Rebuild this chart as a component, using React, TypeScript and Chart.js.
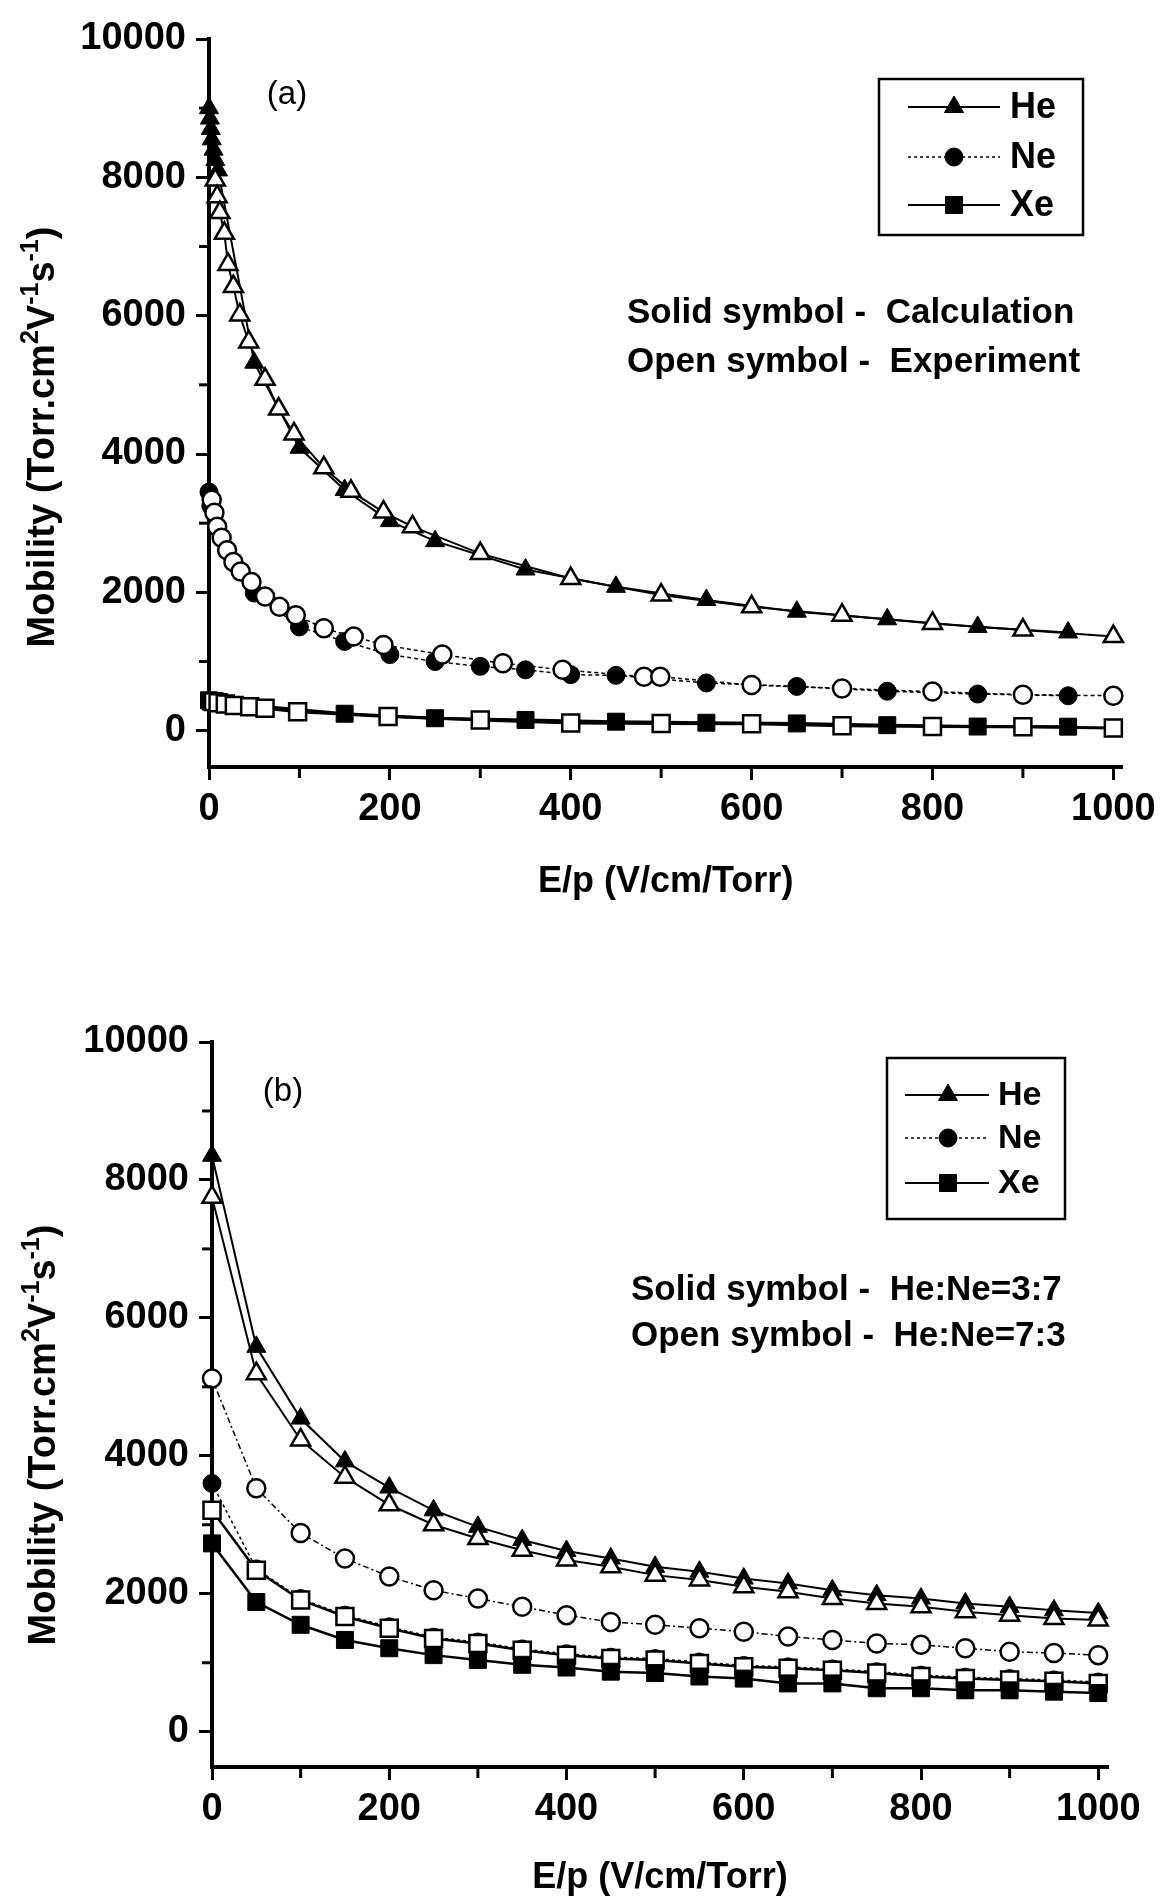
import React, { useEffect, useRef } from 'react';
import { Chart, registerables } from 'chart.js';

Chart.register(...registerables);

// ---------------- DATA ----------------
// Panel (a): solid = calculation, open = experiment
const heCalcX_a = [0, 1, 2, 3, 5, 7, 10, 50, 100, 150, 200, 250, 350, 450, 550, 650, 750, 850, 950];
const heCalcY_a = [9000, 8850, 8700, 8550, 8400, 8250, 8100, 5320, 4090, 3480, 3030, 2740, 2330, 2080, 1890, 1720, 1610, 1500, 1420];
const heExpX_a = [7, 9, 12, 17, 21, 27, 34, 44, 62, 77, 94, 127, 157, 193, 225, 300, 400, 500, 600, 700, 800, 900, 1000];
const heExpY_a = [7960, 7720, 7490, 7190, 6740, 6420, 6010, 5620, 5080, 4650, 4290, 3800, 3460, 3160, 2950, 2560, 2200, 1960, 1790, 1670, 1550, 1455, 1360];

const neCalcX_a = [0, 2, 50, 100, 150, 200, 250, 300, 350, 400, 450, 550, 650, 750, 850, 950];
const neCalcY_a = [3450, 3250, 1990, 1500, 1290, 1100, 1000, 930, 880, 810, 800, 690, 640, 570, 530, 505];
const neExpX_a = [3, 6, 9, 14, 20, 27, 35, 47, 62, 78, 96, 127, 160, 193, 258, 325, 391, 481, 499, 600, 700, 800, 900, 1000];
const neExpY_a = [3340, 3150, 2950, 2790, 2610, 2440, 2300, 2150, 1940, 1790, 1670, 1480, 1360, 1240, 1100, 975, 880, 780, 780, 660, 610, 565, 520, 505];

const xeCalcX_a = [0, 2, 150, 250, 350, 450, 550, 650, 750, 850, 950];
const xeCalcY_a = [440, 420, 245, 180, 155, 130, 115, 105, 80, 60, 58];
const xeExpX_a = [5, 10, 18, 28, 45, 62, 98, 198, 300, 400, 500, 600, 700, 800, 900, 1000];
const xeExpY_a = [420, 405, 385, 365, 345, 325, 275, 205, 155, 110, 105, 100, 70, 60, 58, 38];

// Panel (b): solid = He:Ne=3:7, open = He:Ne=7:3
const epX_b = [0, 50, 100, 150, 200, 250, 300, 350, 400, 450, 500, 550, 600, 650, 700, 750, 800, 850, 900, 950, 1000];
const heSolid_b = [8350, 5580, 4540, 3920, 3540, 3210, 2970, 2780, 2620, 2510, 2390, 2320, 2220, 2150, 2050, 1980, 1930, 1860, 1810, 1760, 1720];
const heOpen_b = [7750, 5190, 4230, 3690, 3290, 3000, 2800, 2630, 2490, 2390, 2270, 2200, 2100, 2030, 1930, 1860, 1810, 1740, 1690, 1640, 1620];
const neSolid_b = [3600, 2360, 1930, 1690, 1520, 1370, 1300, 1200, 1130, 1080, 1060, 1010, 960, 940, 910, 870, 820, 790, 770, 750, 720];
const neOpen_b = [5120, 3530, 2880, 2510, 2250, 2050, 1930, 1810, 1690, 1590, 1550, 1500, 1450, 1380, 1330, 1280, 1260, 1210, 1160, 1140, 1110];
const xeSolid_b = [2730, 1880, 1550, 1330, 1210, 1110, 1040, 970, 930, 870, 850, 800, 770, 700, 700, 630, 630, 600, 600, 580, 560];
const xeOpen_b = [3210, 2340, 1910, 1670, 1500, 1350, 1280, 1180, 1110, 1060, 1040, 990, 940, 920, 890, 850, 800, 770, 750, 730, 700];

// Axis ticks / labels
const xTicks = [0, 200, 400, 600, 800, 1000];
const xMinorTicks = [100, 300, 500, 700, 900];
const yTicks = [0, 2000, 4000, 6000, 8000, 10000];
const yMinorTicks = [1000, 3000, 5000, 7000, 9000];
const legendLabels = ['He', 'Ne', 'Xe'];
const notesA = ['Solid symbol -  Calculation', 'Open symbol -  Experiment'];
const notesB = ['Solid symbol -  He:Ne=3:7', 'Open symbol -  He:Ne=7:3'];
const xTitleText = 'E/p (V/cm/Torr)';
const yTitleParts: [string, boolean][] = [
  ['Mobility (Torr.cm', false], ['2', true], ['V', false], ['-1', true], ['s', false], ['-1', true], [')', false],
];

// ---------------- STYLE ----------------
const FAMILY = '"Liberation Sans", Arial, Helvetica, sans-serif';
const W = 1163;
const H = 950;

const pts = (xs: number[], ys: number[]) => xs.map((x, i) => ({ x, y: ys[i] }));

const mk = (style: string, solid: boolean, r: number) => ({
  pointStyle: style,
  pointRadius: r,
  pointHoverRadius: r,
  pointBackgroundColor: solid ? '#000' : '#fff',
  pointBorderColor: '#000',
  pointBorderWidth: solid ? 1 : 2.5,
});

function ds(label: string, xs: number[], ys: number[], marker: any, line: any, order: number) {
  return {
    label,
    data: pts(xs, ys),
    borderColor: '#000',
    backgroundColor: '#000',
    fill: false,
    tension: 0,
    clip: false,
    order,
    ...marker,
    ...line,
  };
}

const solidLine = (w: number) => ({ borderWidth: w });
const dashLine = (w: number, d: number[]) => ({ borderWidth: w, borderDash: d });

const datasetsA = [
  ds('He calc', heCalcX_a, heCalcY_a, mk('triangle', true, 11), solidLine(2), 6),
  ds('He exp', heExpX_a, heExpY_a, mk('triangle', false, 11), solidLine(2), 3),
  ds('Ne calc', neCalcX_a, neCalcY_a, mk('circle', true, 9), dashLine(1.5, [4, 3]), 5),
  ds('Ne exp', neExpX_a, neExpY_a, mk('circle', false, 9), dashLine(1.5, [4, 3]), 2),
  ds('Xe calc', xeCalcX_a, xeCalcY_a, mk('rect', true, 12), solidLine(3), 4),
  ds('Xe exp', xeExpX_a, xeExpY_a, mk('rect', false, 12), solidLine(3), 1),
];

const datasetsB = [
  ds('He 3:7', epX_b, heSolid_b, mk('triangle', true, 11), solidLine(2), 2),
  ds('He 7:3', epX_b, heOpen_b, mk('triangle', false, 11), solidLine(2), 1),
  ds('Ne 3:7', epX_b, neSolid_b, mk('circle', true, 9), dashLine(1.5, [3, 3]), 6),
  ds('Ne 7:3', epX_b, neOpen_b, mk('circle', false, 9), dashLine(1.5, [6, 3, 2, 3]), 3),
  ds('Xe 3:7', epX_b, xeSolid_b, mk('rect', true, 12), solidLine(2.5), 4),
  ds('Xe 7:3', epX_b, xeOpen_b, mk('rect', false, 12), solidLine(2.5), 5),
];

const panelA = {
  datasets: datasetsA,
  area: { left: 209, right: 1123, top: 39, bottom: 767 },
  yMin: -525,
  xMax: 1010,
  xTitlePad: 50,
  label: '(a)', labelPos: { x: 287, y: 95 },
  notes: notesA, noteX: 627, noteY: [313, 362], noteSize: 35,
  legend: { x1: 879, y1: 79, x2: 1083, y2: 235, rows: [107, 157, 205], lx1: 908, lx2: 1000, mx: 954, tx: 1010, size: 36 },
  yTitle: { cx: 44, cy: 437 },
};

const panelB = {
  datasets: datasetsB,
  area: { left: 212, right: 1108, top: 92, bottom: 817 },
  yMin: -512,
  xMax: 1011,
  xTitlePad: 4,
  label: '(b)', labelPos: { x: 283, y: 142 },
  notes: notesB, noteX: 631, noteY: [340, 386], noteSize: 35,
  legend: { x1: 887, y1: 108, x2: 1065, y2: 269, rows: [145, 188, 233], lx1: 905, lx2: 989, mx: 948, tx: 998, size: 34 },
  yTitle: { cx: 45, cy: 485 },
};

const legendMarkers = ['triangle', 'circle', 'rect'];
const legendDashes = [[], [3, 3], []];
const legendRadius = [11, 9, 12];

function drawMarker(ctx: CanvasRenderingContext2D, style: string, x: number, y: number, r: number) {
  ctx.beginPath();
  if (style === 'triangle') {
    let a = 0;
    ctx.moveTo(x + Math.sin(a) * r, y - Math.cos(a) * r);
    a += (2 * Math.PI) / 3;
    ctx.lineTo(x + Math.sin(a) * r, y - Math.cos(a) * r);
    a += (2 * Math.PI) / 3;
    ctx.lineTo(x + Math.sin(a) * r, y - Math.cos(a) * r);
    ctx.closePath();
  } else if (style === 'circle') {
    ctx.arc(x, y, r, 0, Math.PI * 2);
  } else {
    const s = r * Math.SQRT1_2;
    ctx.rect(x - s, y - s, 2 * s, 2 * s);
  }
  ctx.fillStyle = '#000';
  ctx.fill();
  ctx.lineWidth = 1;
  ctx.setLineDash([]);
  ctx.stroke();
}

function drawDecor(chart: any, p: any) {
  const ctx: CanvasRenderingContext2D = chart.ctx;
  const xs = chart.scales.x;
  const ys = chart.scales.y;
  const { left, bottom } = chart.chartArea;
  ctx.save();
  ctx.strokeStyle = '#000';
  ctx.fillStyle = '#000';

  // minor ticks
  ctx.lineWidth = 3;
  for (const v of xMinorTicks) {
    const px = xs.getPixelForValue(v);
    ctx.beginPath();
    ctx.moveTo(px, bottom);
    ctx.lineTo(px, bottom + 11);
    ctx.stroke();
  }
  for (const v of yMinorTicks) {
    const py = ys.getPixelForValue(v);
    ctx.beginPath();
    ctx.moveTo(left - 10, py);
    ctx.lineTo(left, py);
    ctx.stroke();
  }

  // panel label
  ctx.font = `normal 33px ${FAMILY}`;
  ctx.textAlign = 'center';
  ctx.textBaseline = 'middle';
  ctx.fillText(p.label, p.labelPos.x, p.labelPos.y);

  // notes
  ctx.font = `bold ${p.noteSize}px ${FAMILY}`;
  ctx.textAlign = 'left';
  p.notes.forEach((t: string, i: number) => ctx.fillText(t, p.noteX, p.noteY[i]));

  // legend
  const L = p.legend;
  ctx.lineWidth = 2.5;
  ctx.strokeRect(L.x1, L.y1, L.x2 - L.x1, L.y2 - L.y1);
  legendLabels.forEach((lab, i) => {
    const y = L.rows[i];
    ctx.setLineDash(legendDashes[i]);
    ctx.lineWidth = i === 1 ? 1.5 : 2;
    ctx.beginPath();
    ctx.moveTo(L.lx1, y);
    ctx.lineTo(L.lx2, y);
    ctx.stroke();
    ctx.setLineDash([]);
    drawMarker(ctx, legendMarkers[i], L.mx, y, legendRadius[i]);
    ctx.fillStyle = '#000';
    ctx.font = `bold ${L.size}px ${FAMILY}`;
    ctx.textAlign = 'left';
    ctx.textBaseline = 'middle';
    ctx.fillText(lab, L.tx, y + 1);
  });

  // y axis title with superscripts
  const size = 38;
  const supSize = 25;
  let total = 0;
  const widths: number[] = [];
  for (const [t, sup] of yTitleParts) {
    ctx.font = `bold ${sup ? supSize : size}px ${FAMILY}`;
    const w = ctx.measureText(t).width;
    widths.push(w);
    total += w;
  }
  ctx.save();
  ctx.translate(p.yTitle.cx, p.yTitle.cy);
  ctx.rotate(-Math.PI / 2);
  ctx.textAlign = 'left';
  ctx.textBaseline = 'alphabetic';
  let x = -total / 2;
  const base = size * 0.27;
  yTitleParts.forEach(([t, sup], i) => {
    ctx.font = `bold ${sup ? supSize : size}px ${FAMILY}`;
    ctx.fillText(t, x, sup ? base - size * 0.42 : base);
    x += widths[i];
  });
  ctx.restore();

  ctx.restore();
}

function makeConfig(p: any): any {
  const a = p.area;
  const grid = { drawOnChartArea: false, drawTicks: true, tickLength: 13, tickWidth: 3, tickColor: '#000' };
  const border = { display: true, color: '#000', width: 4 };
  const tickFont = { size: 38, weight: 'bold', family: FAMILY };
  return {
    type: 'line',
    data: { datasets: p.datasets },
    options: {
      responsive: false,
      maintainAspectRatio: false,
      animation: false,
      devicePixelRatio: 1,
      events: [],
      layout: { padding: { top: a.top, right: W - a.right, left: 0, bottom: 0 } },
      plugins: { legend: { display: false }, tooltip: { enabled: false }, title: { display: false } },
      scales: {
        x: {
          type: 'linear',
          min: 0,
          max: p.xMax,
          afterFit: (s: any) => { s.height = H - a.bottom; },
          afterBuildTicks: (s: any) => { s.ticks = xTicks.map((v) => ({ value: v })); },
          grid,
          border,
          ticks: { color: '#000', font: tickFont, padding: 7, maxRotation: 0, autoSkip: false, callback: (v: any) => String(v) },
          title: {
            display: true,
            text: xTitleText,
            color: '#000',
            font: { size: 36, weight: 'bold', family: FAMILY, lineHeight: 1 },
            padding: { top: 0, bottom: p.xTitlePad },
          },
        },
        y: {
          type: 'linear',
          min: p.yMin,
          max: 10000,
          afterFit: (s: any) => { s.width = a.left; },
          afterBuildTicks: (s: any) => { s.ticks = yTicks.map((v) => ({ value: v })); },
          grid,
          border,
          ticks: { color: '#000', font: tickFont, padding: 10, autoSkip: false, callback: (v: any) => String(v) },
        },
      },
    },
    plugins: [{ id: 'decor', afterDraw: (chart: any) => drawDecor(chart, p) }],
  };
}

function Panel({ spec, top }: { spec: any; top: number }) {
  const ref = useRef<HTMLCanvasElement>(null);
  useEffect(() => {
    Chart.defaults.font.family = FAMILY;
    Chart.defaults.color = '#000';
    const chart = new Chart(ref.current as HTMLCanvasElement, makeConfig(spec));
    return () => chart.destroy();
  }, [spec]);
  return (
    <canvas
      ref={ref}
      width={W}
      height={H}
      style={{ position: 'absolute', left: 0, top, width: W, height: H, display: 'block' }}
    />
  );
}

export default function App() {
  return (
    <div style={{ position: 'absolute', left: 0, top: 0, width: W, height: 1900, background: '#fff' }}>
      <Panel spec={panelA} top={0} />
      <Panel spec={panelB} top={950} />
    </div>
  );
}
